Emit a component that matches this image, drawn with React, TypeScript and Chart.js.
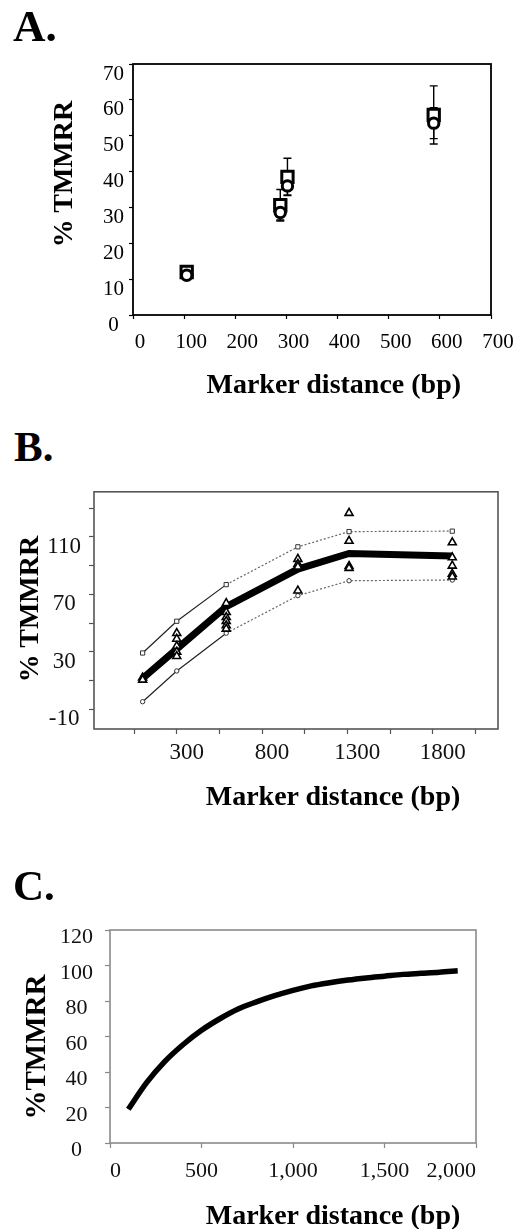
import React, { useEffect, useRef } from 'react';
import { Chart, registerables } from 'chart.js';

Chart.register(...registerables);

const SERIF = '"Liberation Serif", "Times New Roman", Times, serif';

// ---------- Panel A data ----------
const aDistances = [105, 288, 302, 588];
const aSquareMean = [12.0, 30.6, 38.5, 55.8];
const aSquareErr = [1.2, 4.4, 5.2, 8.1];
const aCircleMean = [11.1, 28.6, 36.0, 53.5];
const aCircleErr = [1.2, 2.1, 2.5, 4.3];

// ---------- Panel B data ----------
const bDistances = [100, 300, 590, 1010, 1310, 1915];
const bUpper = [29.2, 51.3, 76.8, 103.1, 113.7, 114.0];
const bMean = [11.5, 32.0, 61.5, 87.6, 98.5, 96.8];
const bLower = [-4.7, 16.7, 43.0, 69.1, 79.5, 80.0];
const bObsX = [100, 100, 300, 300, 300, 300, 300, 590, 590, 590, 590, 590, 590, 1010, 1010, 1010, 1010, 1310, 1310, 1310, 1310, 1915, 1915, 1915, 1915, 1915];
const bObsY = [12, 10.5, 43, 39, 34, 30, 27, 63.8, 57.6, 54.1, 51.4, 48.4, 46, 94.6, 91.1, 89.2, 72.6, 126.6, 107.2, 89.7, 88.3, 106.1, 95.7, 89.9, 84.2, 82.3];
const bXTicks = [50, 300, 550, 800, 1050, 1300, 1550, 1800, 2050];
const bXLabels = [300, 800, 1300, 1800];
const bYTicks = [-10, 10, 30, 50, 70, 90, 110, 130];
const bYLabels = [-10, 30, 70, 110];

// ---------- Panel C data ----------
const cDistances = [100, 200, 300, 400, 500, 600, 700, 800, 900, 1000, 1100, 1200, 1300, 1400, 1500, 1600, 1700, 1800, 1900];
const cTmmrr = [19, 34, 46, 55.5, 63.5, 70, 75.5, 79.5, 83, 86, 88.5, 90.3, 91.8, 93, 94, 95, 95.6, 96.2, 97];

const framePlugin = {
  id: 'frame',
  afterDatasetsDraw(chart: any, _args: any, opts: any) {
    const { left, right, top, bottom } = chart.chartArea;
    const ctx = chart.ctx;
    ctx.save();
    ctx.strokeStyle = opts.color || '#000';
    ctx.lineWidth = opts.width || 1;
    ctx.strokeRect(left, top, right - left, bottom - top);
    ctx.restore();
  },
};

const errorBarPlugin = {
  id: 'errorBars',
  beforeDatasetsDraw(chart: any) {
    const ctx = chart.ctx;
    const xs = chart.scales.x;
    const ys = chart.scales.y;
    chart.data.datasets.forEach((ds: any) => {
      if (!ds.errors) return;
      ctx.save();
      ctx.strokeStyle = '#000';
      ctx.lineWidth = 1.4;
      ds.data.forEach((p: any, i: number) => {
        const e = ds.errors[i];
        const x = xs.getPixelForValue(p.x);
        const yt = ys.getPixelForValue(p.y + e);
        const yb = ys.getPixelForValue(p.y - e);
        ctx.beginPath();
        ctx.moveTo(x, yt);
        ctx.lineTo(x, yb);
        ctx.moveTo(x - 4, yt);
        ctx.lineTo(x + 4, yt);
        ctx.moveTo(x - 4, yb);
        ctx.lineTo(x + 4, yb);
        ctx.stroke();
      });
      ctx.restore();
    });
  },
};

const pts = (xs: number[], ys: number[]) => xs.map((x, i) => ({ x, y: ys[i] }));

const basePlugins = (frameColor: string, frameWidth: number) => ({
  legend: { display: false },
  tooltip: { enabled: false },
  frame: { color: frameColor, width: frameWidth },
});

function configA(): any {
  return {
    type: 'scatter',
    data: {
      datasets: [
        {
          label: 'circles',
          data: pts(aDistances, aCircleMean),
          errors: aCircleErr,
          pointStyle: 'circle',
          pointRadius: 5.2,
          borderWidth: 3,
          borderColor: '#000',
          backgroundColor: '#fff',
        },
        {
          label: 'squares',
          data: pts(aDistances, aSquareMean),
          errors: aSquareErr,
          pointStyle: 'rect',
          pointRadius: 8,
          borderWidth: 3,
          borderColor: '#000',
          backgroundColor: '#fff',
        },
      ],
    },
    options: {
      animation: false,
      responsive: false,
      devicePixelRatio: 1,
      layout: { padding: { top: 24, right: 35, left: 0, bottom: 0 } },
      plugins: basePlugins('#000', 1.8),
      scales: {
        x: {
          type: 'linear',
          min: 0,
          max: 700,
          ticks: { stepSize: 100, font: { family: SERIF, size: 21 }, color: '#000', padding: 11, labelOffset: 7, maxRotation: 0, autoSkip: false },
          grid: { drawOnChartArea: false, drawTicks: true, tickLength: 4, color: '#000', tickColor: '#000', tickWidth: 1.2 },
          border: { display: false },
          afterFit: (s: any) => { s.height = 95; },
        },
        y: {
          type: 'linear',
          min: 0,
          max: 70,
          ticks: { stepSize: 10, font: { family: SERIF, size: 21 }, color: '#000', padding: 5, labelOffset: 10, crossAlign: 'center', autoSkip: false },
          grid: { drawOnChartArea: false, drawTicks: true, tickLength: 4, color: '#000', tickColor: '#000', tickWidth: 1.2 },
          border: { display: false },
          afterFit: (s: any) => { s.width = 133; },
        },
      },
    },
    plugins: [errorBarPlugin, framePlugin],
  };
}

function configB(): any {
  const dashAfter = (ctx: any) => (ctx.p0DataIndex >= 2 ? [2, 2] : undefined);
  const colAfter = (ctx: any) => (ctx.p0DataIndex >= 2 ? '#666' : '#222');
  return {
    type: 'scatter',
    data: {
      datasets: [
        {
          label: 'observed',
          data: pts(bObsX, bObsY),
          pointStyle: 'triangle',
          pointRadius: 4.6,
          borderWidth: 1.6,
          borderColor: '#000',
          backgroundColor: '#fff',
          showLine: false,
        },
        {
          label: 'upper',
          data: pts(bDistances, bUpper),
          showLine: true,
          borderColor: '#222',
          borderWidth: 1.2,
          segment: { borderDash: dashAfter, borderColor: colAfter },
          pointStyle: 'rect',
          pointRadius: 3,
          pointBorderWidth: 1,
          pointBorderColor: '#333',
          pointBackgroundColor: '#fff',
        },
        {
          label: 'lower',
          data: pts(bDistances, bLower),
          showLine: true,
          borderColor: '#222',
          borderWidth: 1.2,
          segment: { borderDash: dashAfter, borderColor: colAfter },
          pointStyle: 'circle',
          pointRadius: 2.2,
          pointBorderWidth: 1,
          pointBorderColor: '#333',
          pointBackgroundColor: '#fff',
        },
        {
          label: 'mean',
          data: pts(bDistances, bMean),
          showLine: true,
          borderColor: '#000',
          borderWidth: 7,
          pointRadius: 0,
        },
      ],
    },
    options: {
      animation: false,
      responsive: false,
      devicePixelRatio: 1,
      layout: { padding: { top: 21, right: 28, left: 0, bottom: 0 } },
      plugins: basePlugins('#555', 1.6),
      scales: {
        x: {
          type: 'linear',
          min: -185,
          max: 2183,
          afterBuildTicks: (s: any) => { s.ticks = bXTicks.map((v) => ({ value: v })); },
          ticks: {
            font: { family: SERIF, size: 23 },
            color: '#111',
            padding: 5,
            labelOffset: 10,
            maxRotation: 0,
            autoSkip: false,
            callback: (v: any) => (bXLabels.includes(Number(v)) ? String(v) : ''),
          },
          grid: { drawOnChartArea: false, drawTicks: true, tickLength: 5, color: '#555', tickColor: '#555', tickWidth: 1.2 },
          border: { display: false },
          afterFit: (s: any) => { s.height = 86; },
        },
        y: {
          type: 'linear',
          min: -23.7,
          max: 141.4,
          afterBuildTicks: (s: any) => { s.ticks = bYTicks.map((v) => ({ value: v })); },
          ticks: {
            font: { family: SERIF, size: 23 },
            color: '#111',
            padding: 8,
            labelOffset: 10,
            crossAlign: 'center',
            autoSkip: false,
            callback: (v: any) => (bYLabels.includes(Number(v)) ? String(v) : ''),
          },
          grid: { drawOnChartArea: false, drawTicks: true, tickLength: 5, color: '#555', tickColor: '#555', tickWidth: 1.2 },
          border: { display: false },
          afterFit: (s: any) => { s.width = 94; },
        },
      },
    },
    plugins: [framePlugin],
  };
}

function configC(): any {
  return {
    type: 'scatter',
    data: {
      datasets: [
        {
          label: 'fit',
          data: pts(cDistances, cTmmrr),
          showLine: true,
          borderColor: '#000',
          borderWidth: 5.5,
          borderCapStyle: 'butt',
          cubicInterpolationMode: 'monotone',
          pointRadius: 0,
        },
      ],
    },
    options: {
      animation: false,
      responsive: false,
      devicePixelRatio: 1,
      layout: { padding: { top: 30, right: 50, left: 0, bottom: 0 } },
      plugins: basePlugins('#8a8a8a', 1.6),
      scales: {
        x: {
          type: 'linear',
          min: 0,
          max: 2000,
          ticks: {
            stepSize: 500,
            font: { family: SERIF, size: 22 },
            color: '#111',
            padding: 10,
            align: 'inner',
            maxRotation: 0,
            autoSkip: false,
            callback: (v: any) => Number(v).toLocaleString('en-US'),
          },
          grid: { drawOnChartArea: false, drawTicks: true, tickLength: 5, color: '#888', tickColor: '#888', tickWidth: 1.2 },
          border: { display: false },
          afterFit: (s: any) => { s.height = 57; },
        },
        y: {
          type: 'linear',
          min: 0,
          max: 120,
          ticks: { stepSize: 20, font: { family: SERIF, size: 22 }, color: '#111', padding: 12, labelOffset: 7.5, crossAlign: 'center', autoSkip: false },
          grid: { drawOnChartArea: false, drawTicks: true, tickLength: 5, color: '#888', tickColor: '#888', tickWidth: 1.2 },
          border: { display: false },
          afterFit: (s: any) => { s.width = 110; },
        },
      },
    },
    plugins: [framePlugin],
  };
}

function ChartCanvas({ make, top, height }: { make: () => any; top: number; height: number }) {
  const ref = useRef<HTMLCanvasElement>(null);
  useEffect(() => {
    const chart = new Chart(ref.current as HTMLCanvasElement, make());
    return () => chart.destroy();
  }, []);
  return (
    <canvas
      ref={ref}
      width={526}
      height={height}
      style={{ position: 'absolute', left: 0, top, width: 526, height }}
    />
  );
}

const BASE = 0.8375;

function Letter({ text, left, baseline, size }: { text: string; left: number; baseline: number; size: number }) {
  return (
    <div
      style={{
        position: 'absolute',
        left,
        top: baseline - BASE * size,
        fontFamily: SERIF,
        fontWeight: 'bold',
        fontSize: size,
        lineHeight: `${size}px`,
        whiteSpace: 'nowrap',
        color: '#000',
      }}
    >
      {text}
    </div>
  );
}

function XTitle({ text, cx, baseline, size }: { text: string; cx: number; baseline: number; size: number }) {
  return (
    <div
      style={{
        position: 'absolute',
        left: cx,
        top: baseline - BASE * size,
        transform: 'translateX(-50%)',
        fontFamily: SERIF,
        fontWeight: 'bold',
        fontSize: size,
        lineHeight: `${size}px`,
        whiteSpace: 'nowrap',
        color: '#000',
      }}
    >
      {text}
    </div>
  );
}

function YTitle({ text, cx, cy, size }: { text: string; cx: number; cy: number; size: number }) {
  return (
    <div
      style={{
        position: 'absolute',
        left: cx,
        top: cy,
        transform: 'translate(-50%, -50%) rotate(-90deg)',
        fontFamily: SERIF,
        fontWeight: 'bold',
        fontSize: size,
        lineHeight: `${size}px`,
        whiteSpace: 'nowrap',
        color: '#000',
      }}
    >
      {text}
    </div>
  );
}

export default function App() {
  return (
    <div style={{ position: 'absolute', left: 0, top: 0, width: 526, height: 1229, background: '#fff', overflow: 'hidden' }}>
      <ChartCanvas make={configA} top={40} height={370} />
      <ChartCanvas make={configB} top={470} height={345} />
      <ChartCanvas make={configC} top={900} height={300} />

      <Letter text="A." left={13} baseline={42} size={45} />
      <Letter text="B." left={14} baseline={460.7} size={43} />
      <Letter text="C." left={13} baseline={900} size={43} />

      <XTitle text="Marker distance (bp)" cx={333.8} baseline={393.3} size={28} />
      <XTitle text="Marker distance (bp)" cx={333} baseline={805.7} size={28} />
      <XTitle text="Marker distance (bp)" cx={333} baseline={1224} size={28} />

      <YTitle text="% TMMRR" cx={62.5} cy={174.2} size={28} />
      <YTitle text="% TMMRR" cx={29.2} cy={609.2} size={28} />
      <YTitle text="%TMMRR" cx={35} cy={1046.7} size={29} />
    </div>
  );
}
